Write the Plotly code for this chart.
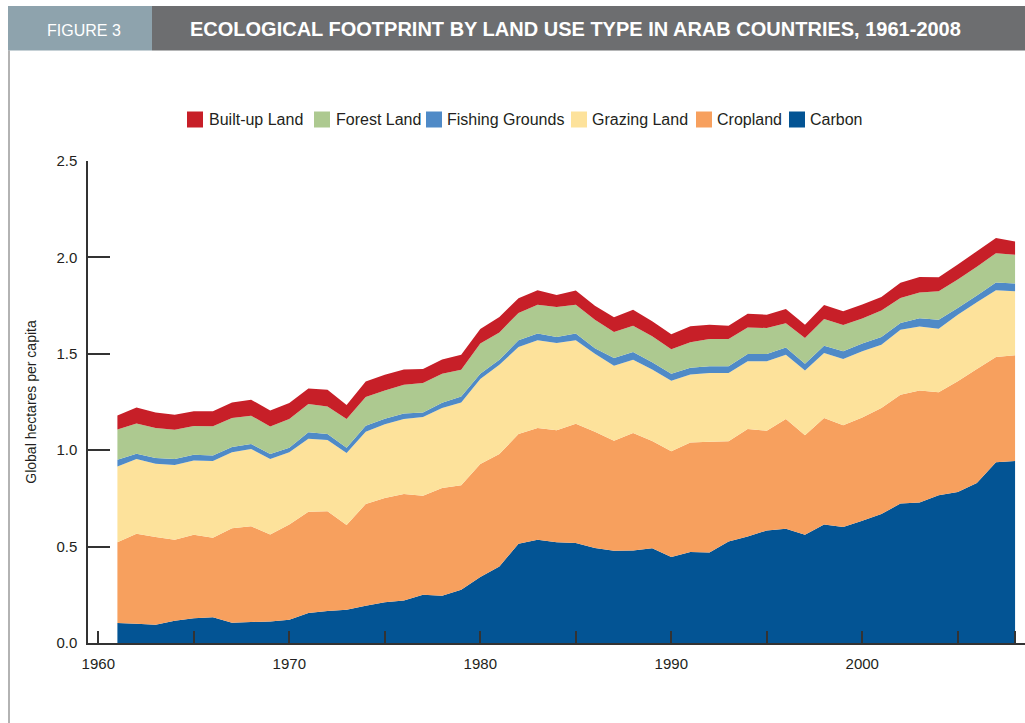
import plotly.graph_objects as go

years = list(range(1961, 2009))

carbon = [0.104, 0.100, 0.095, 0.116, 0.128, 0.133, 0.105, 0.109, 0.112, 0.121,
          0.156, 0.166, 0.173, 0.193, 0.211, 0.221, 0.250, 0.245, 0.276, 0.342,
          0.397, 0.515, 0.536, 0.522, 0.519, 0.493, 0.479, 0.480, 0.491, 0.446,
          0.472, 0.470, 0.527, 0.553, 0.584, 0.593, 0.562, 0.615, 0.602, 0.634,
          0.669, 0.723, 0.729, 0.766, 0.783, 0.830, 0.937, 0.944]

cropland = [0.418, 0.467, 0.455, 0.420, 0.434, 0.413, 0.490, 0.496, 0.451, 0.493,
            0.525, 0.517, 0.439, 0.528, 0.541, 0.552, 0.514, 0.559, 0.542, 0.586,
            0.583, 0.569, 0.579, 0.581, 0.618, 0.603, 0.570, 0.609, 0.557, 0.548,
            0.568, 0.574, 0.519, 0.557, 0.517, 0.569, 0.515, 0.552, 0.527, 0.536,
            0.550, 0.565, 0.581, 0.534, 0.574, 0.591, 0.546, 0.548]

grazing = [0.394, 0.387, 0.380, 0.387, 0.385, 0.398, 0.394, 0.401, 0.391, 0.375,
           0.379, 0.370, 0.373, 0.375, 0.382, 0.389, 0.408, 0.415, 0.430, 0.441,
           0.463, 0.451, 0.455, 0.453, 0.433, 0.404, 0.389, 0.380, 0.370, 0.366,
           0.352, 0.356, 0.354, 0.351, 0.360, 0.333, 0.337, 0.337, 0.344, 0.343,
           0.328, 0.337, 0.332, 0.330, 0.346, 0.346, 0.346, 0.332]

fishing = [0.035, 0.028, 0.029, 0.031, 0.029, 0.028, 0.028, 0.026, 0.026, 0.024,
           0.033, 0.031, 0.028, 0.031, 0.029, 0.028, 0.024, 0.027, 0.031, 0.028,
           0.026, 0.035, 0.035, 0.031, 0.035, 0.029, 0.040, 0.040, 0.038, 0.036,
           0.035, 0.035, 0.035, 0.038, 0.038, 0.038, 0.035, 0.038, 0.040, 0.040,
           0.040, 0.035, 0.043, 0.047, 0.035, 0.035, 0.041, 0.040]

forest = [0.156, 0.157, 0.156, 0.152, 0.150, 0.152, 0.150, 0.147, 0.143, 0.149,
          0.147, 0.143, 0.149, 0.149, 0.147, 0.150, 0.152, 0.150, 0.138, 0.156,
          0.142, 0.142, 0.150, 0.156, 0.149, 0.147, 0.135, 0.137, 0.135, 0.128,
          0.133, 0.142, 0.142, 0.138, 0.135, 0.126, 0.133, 0.138, 0.137, 0.130,
          0.138, 0.130, 0.133, 0.147, 0.147, 0.149, 0.152, 0.150]

builtup = [0.073, 0.083, 0.081, 0.078, 0.076, 0.078, 0.081, 0.083, 0.083, 0.083,
           0.080, 0.086, 0.073, 0.080, 0.081, 0.078, 0.073, 0.074, 0.078, 0.076,
           0.080, 0.076, 0.074, 0.062, 0.074, 0.073, 0.076, 0.083, 0.078, 0.078,
           0.083, 0.074, 0.069, 0.071, 0.069, 0.074, 0.069, 0.073, 0.071, 0.073,
           0.069, 0.078, 0.080, 0.073, 0.078, 0.081, 0.078, 0.069]

# stacking order bottom -> top
series_names = ["Carbon", "Cropland", "Grazing Land", "Fishing Grounds", "Forest Land", "Built-up Land"]
series_values = [carbon, cropland, grazing, fishing, forest, builtup]
series_colors = ["#035494", "#f7a05e", "#fde29b", "#4f8ac7", "#adc990", "#c71f28"]

legend_order = ["Built-up Land", "Forest Land", "Fishing Grounds", "Grazing Land", "Cropland", "Carbon"]

x_tickvals = [1960, 1965, 1970, 1975, 1980, 1985, 1990, 1995, 2000, 2005, 2008]
x_ticktext = ["1960", "", "1970", "", "1980", "", "1990", "", "2000", "", ""]
y_tickvals = [0.0, 0.5, 1.0, 1.5, 2.0, 2.5]

FONT = "Liberation Sans, Arial, sans-serif"
TXT = "#231f20"

W, H = 1025, 723
ML, MR, MT, MB = 88, 0, 161, 80
PW, PH = W - ML - MR, H - MT - MB


def px(xp):
    return (xp - ML) / PW


def py(yp):
    return (H - MB - yp) / PH


fig = go.Figure()
for name, vals, col in zip(series_names, series_values, series_colors):
    fig.add_trace(go.Scatter(x=years, y=vals, name=name, stackgroup="one", mode="none",
                             fillcolor=col, showlegend=False, hoverinfo="x+y+name"))

color_of = dict(zip(series_names, series_colors))

shapes = [
    dict(type="rect", xref="paper", yref="paper", x0=px(8), x1=px(152), y0=py(50.5), y1=py(6),
         fillcolor="#8ea3ad", line=dict(width=0), layer="above"),
    dict(type="rect", xref="paper", yref="paper", x0=px(152), x1=px(1025), y0=py(50.5), y1=py(6),
         fillcolor="#6d6e70", line=dict(width=0), layer="above"),
    dict(type="line", xref="paper", yref="paper", x0=px(9), x1=px(9), y0=py(50.5), y1=py(723),
         line=dict(color="#9a9a9a", width=1.5)),
]

annotations = [
    dict(text="FIGURE 3", xref="paper", yref="paper", x=px(84), y=py(30), xanchor="center",
         yanchor="middle", showarrow=False, font=dict(family=FONT, size=16, color="white")),
    dict(text="<b>ECOLOGICAL FOOTPRINT BY LAND USE TYPE IN ARAB COUNTRIES, 1961-2008</b>",
         xref="paper", yref="paper", x=px(188), y=py(29), xanchor="left", yanchor="middle",
         showarrow=False, font=dict(family=FONT, size=20, color="white")),
]

# legend (drawn as squares + labels above the plot)
legend_square_x = [187, 314, 426, 571, 696, 789]
legend_text_x = [209, 336, 447, 592, 717, 810]
for name, sx, tx in zip(legend_order, legend_square_x, legend_text_x):
    shapes.append(dict(type="rect", xref="paper", yref="paper", x0=px(sx), x1=px(sx + 16),
                       y0=py(127.5), y1=py(111.5), fillcolor=color_of[name], line=dict(width=0)))
    annotations.append(dict(text=name, xref="paper", yref="paper", x=px(tx - 2), y=py(119.5),
                            xanchor="left", yanchor="middle", showarrow=False,
                            font=dict(family=FONT, size=16, color=TXT)))

fig.update_layout(
    width=W, height=H,
    margin=dict(l=ML, r=MR, t=MT, b=MB),
    paper_bgcolor="white", plot_bgcolor="white",
    font=dict(family=FONT, size=15, color=TXT),
    shapes=shapes, annotations=annotations,
    showlegend=False,
    xaxis=dict(range=[1959.46, 2008.52], tickvals=x_tickvals, ticktext=x_ticktext,
               ticks="inside", ticklen=12, tickwidth=1.5, tickcolor="#333333",
               showline=True, linecolor="#333333", linewidth=1.5, showgrid=False, zeroline=False,
               tickfont=dict(family=FONT, size=15, color=TXT), ticklabelstandoff=6),
    yaxis=dict(range=[0, 2.5], tickvals=y_tickvals, tickformat=".1f",
               ticks="inside", ticklen=22, tickwidth=1.5, tickcolor="#333333",
               showline=True, linecolor="#333333", linewidth=1.5, showgrid=False, zeroline=False,
               tickfont=dict(family=FONT, size=15, color=TXT), ticklabelstandoff=6,
               title=dict(text="Global hectares per capita", standoff=16,
                          font=dict(family=FONT, size=14, color=TXT))),
)

fig.write_html("out.html", config={"displayModeBar": False},
               post_script="document.body.style.margin='0px';")
